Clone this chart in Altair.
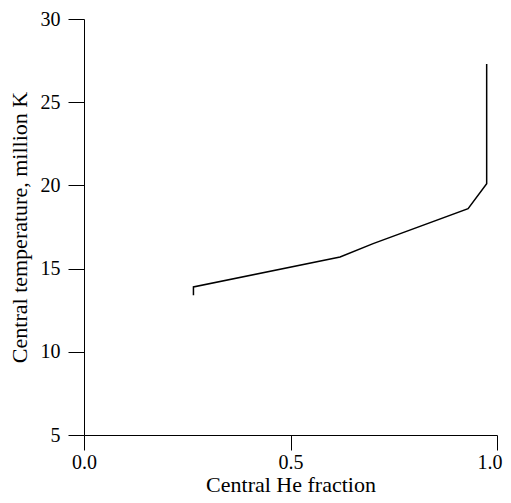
import altair as alt
import pandas as pd

he_fraction = [0.265, 0.265, 0.62, 0.70, 0.93, 0.975, 0.975]
central_temp = [13.4, 13.9, 15.7, 16.5, 18.6, 20.1, 27.3]
step = list(range(len(he_fraction)))

df = pd.DataFrame({"x": he_fraction, "y": central_temp, "o": step})

FONT = "Liberation Serif"

chart = alt.Chart(df).mark_line(color="black", strokeWidth=1.5).encode(
    x=alt.X("x:Q", scale=alt.Scale(domain=[0, 1], nice=False, zero=False),
            axis=alt.Axis(title="Central He fraction", values=[0, 0.5, 1.0], format=".1f",
                          grid=False, tickSize=15, labelPadding=2, titlePadding=2,
                          domainColor="black", tickColor="black", labelColor="black",
                          titleColor="black", labelFontSize=20, titleFontSize=22,
                          labelFont=FONT, titleFont=FONT, titleFontWeight="normal",
                          labelFlush=False,
                          labelAlign={"expr": "datum.value >= 1 ? 'right' : 'center'"},
                          labelOffset={"expr": "datum.value >= 1 ? 5 : 0"})),
    y=alt.Y("y:Q", scale=alt.Scale(domain=[5, 30], nice=False, zero=False),
            axis=alt.Axis(title="Central temperature, million K", values=[5, 10, 15, 20, 25, 30],
                          grid=False, tickSize=16, labelPadding=8, titlePadding=9,
                          domainColor="black", tickColor="black", labelColor="black",
                          titleColor="black", labelFontSize=20, titleFontSize=22,
                          labelFont=FONT, titleFont=FONT, titleFontWeight="normal",
                          labelFlush=False)),
    order="o:O",
).properties(
    width=413, height=416,
    autosize=alt.AutoSizeParams(type="none"),
    padding={"left": 76, "top": 11, "right": 6, "bottom": 60},
).configure_view(stroke=None)

chart.save("out.html", embed_options={"renderer": "svg", "actions": False})
